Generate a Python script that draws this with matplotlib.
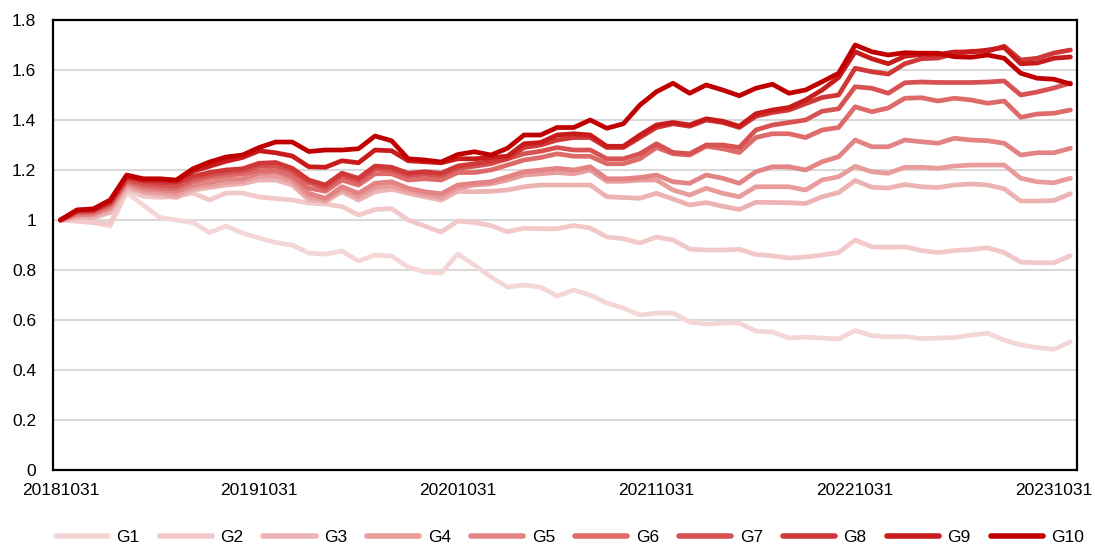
import matplotlib
matplotlib.use('Agg')
import matplotlib.pyplot as plt
import numpy as np

plt.rcParams['font.family'] = ['Liberation Sans', 'DejaVu Sans']

# month-end NAV of 10 groups, 2018-10 .. 2023-11 (62 points)
g1 = [1.0, 0.995, 0.99, 0.976, 1.11, 1.06, 1.01, 1.0, 0.99, 0.95, 0.976, 0.948, 0.928,
      0.91, 0.90, 0.868, 0.864, 0.876, 0.836, 0.86, 0.856, 0.812, 0.792, 0.788, 0.864,
      0.82, 0.772, 0.732, 0.74, 0.732, 0.696, 0.72, 0.70, 0.668, 0.648, 0.62, 0.628,
      0.628, 0.592, 0.584, 0.588, 0.588, 0.556, 0.552, 0.528, 0.532, 0.528, 0.524, 0.558,
      0.538, 0.533, 0.534, 0.526, 0.528, 0.53, 0.54, 0.547, 0.52, 0.50, 0.49, 0.483, 0.513]
g2 = [1.0, 0.997, 0.99, 0.985, 1.12, 1.095, 1.09, 1.095, 1.108, 1.08, 1.108, 1.108, 1.092,
      1.086, 1.08, 1.068, 1.064, 1.054, 1.02, 1.042, 1.046, 1.0, 0.976, 0.952, 0.996,
      0.99, 0.978, 0.953, 0.967, 0.965, 0.965, 0.978, 0.968, 0.932, 0.925, 0.908, 0.932,
      0.92, 0.884, 0.88, 0.88, 0.883, 0.862, 0.857, 0.848, 0.852, 0.86, 0.87, 0.92,
      0.893, 0.891, 0.893, 0.878, 0.87, 0.878, 0.882, 0.889, 0.87, 0.832, 0.829, 0.829, 0.857]
g3 = [1.0, 1.01, 1.01, 1.03, 1.13, 1.11, 1.10, 1.09, 1.12, 1.13, 1.14, 1.145, 1.16,
      1.16, 1.14, 1.08, 1.073, 1.113, 1.08, 1.113, 1.123, 1.107, 1.093, 1.08, 1.115,
      1.113, 1.115, 1.12, 1.133, 1.14, 1.14, 1.14, 1.14, 1.093, 1.09, 1.087, 1.107,
      1.084, 1.06, 1.07, 1.055, 1.042, 1.071, 1.07, 1.069, 1.066, 1.093, 1.11, 1.158,
      1.131, 1.128, 1.142, 1.133, 1.13, 1.14, 1.144, 1.14, 1.125, 1.076, 1.076, 1.078, 1.105]
g4 = [1.0, 1.02, 1.02, 1.045, 1.14, 1.115, 1.11, 1.10, 1.13, 1.14, 1.15, 1.155, 1.175,
      1.177, 1.153, 1.093, 1.08, 1.123, 1.093, 1.13, 1.138, 1.117, 1.103, 1.09, 1.127,
      1.14, 1.145, 1.16, 1.18, 1.185, 1.19, 1.185, 1.20, 1.155, 1.155, 1.16, 1.16,
      1.12, 1.10, 1.127, 1.107, 1.093, 1.133, 1.133, 1.133, 1.12, 1.16, 1.173, 1.215,
      1.193, 1.187, 1.211, 1.211, 1.207, 1.216, 1.22, 1.22, 1.22, 1.167, 1.153, 1.149, 1.167]
g5 = [1.0, 1.02, 1.025, 1.05, 1.15, 1.125, 1.12, 1.115, 1.14, 1.15, 1.165, 1.165, 1.187,
      1.193, 1.167, 1.107, 1.087, 1.133, 1.107, 1.147, 1.153, 1.127, 1.113, 1.105, 1.14,
      1.147, 1.153, 1.173, 1.193, 1.20, 1.207, 1.20, 1.213, 1.165, 1.165, 1.17, 1.18,
      1.153, 1.147, 1.18, 1.167, 1.147, 1.193, 1.213, 1.213, 1.20, 1.233, 1.253, 1.32,
      1.293, 1.293, 1.32, 1.313, 1.307, 1.327, 1.32, 1.317, 1.307, 1.26, 1.269, 1.269, 1.287]
g6 = [1.0, 1.03, 1.03, 1.06, 1.155, 1.135, 1.13, 1.125, 1.155, 1.17, 1.18, 1.185, 1.197,
      1.20, 1.177, 1.128, 1.115, 1.16, 1.14, 1.185, 1.185, 1.16, 1.165, 1.16, 1.19,
      1.19, 1.20, 1.22, 1.24, 1.25, 1.265, 1.255, 1.255, 1.225, 1.225, 1.245, 1.29,
      1.265, 1.26, 1.295, 1.285, 1.27, 1.33, 1.345, 1.345, 1.33, 1.36, 1.37, 1.453,
      1.433, 1.448, 1.487, 1.489, 1.476, 1.487, 1.48, 1.467, 1.476, 1.411, 1.424, 1.427, 1.44]
g7 = [1.0, 1.03, 1.035, 1.065, 1.16, 1.145, 1.14, 1.135, 1.165, 1.18, 1.19, 1.195, 1.215,
      1.218, 1.195, 1.15, 1.13, 1.177, 1.157, 1.205, 1.20, 1.177, 1.183, 1.177, 1.207,
      1.215, 1.225, 1.245, 1.265, 1.275, 1.29, 1.28, 1.28, 1.245, 1.245, 1.265, 1.305,
      1.27, 1.265, 1.30, 1.30, 1.29, 1.36, 1.38, 1.39, 1.40, 1.435, 1.445, 1.533,
      1.527, 1.507, 1.549, 1.552, 1.55, 1.55, 1.55, 1.552, 1.556, 1.50, 1.512, 1.528, 1.548]
g8 = [1.0, 1.035, 1.04, 1.07, 1.17, 1.155, 1.15, 1.15, 1.175, 1.19, 1.20, 1.205, 1.227,
      1.23, 1.207, 1.16, 1.14, 1.187, 1.167, 1.216, 1.211, 1.187, 1.193, 1.187, 1.216,
      1.225, 1.235, 1.245, 1.29, 1.30, 1.32, 1.33, 1.33, 1.29, 1.29, 1.33, 1.37,
      1.385, 1.375, 1.40, 1.39, 1.37, 1.415, 1.43, 1.44, 1.465, 1.49, 1.50, 1.607,
      1.593, 1.584, 1.625, 1.645, 1.648, 1.665, 1.675, 1.675, 1.695, 1.64, 1.647, 1.668, 1.68]
g9 = [1.0, 1.04, 1.04, 1.075, 1.175, 1.16, 1.16, 1.155, 1.195, 1.215, 1.235, 1.25, 1.277,
      1.269, 1.256, 1.213, 1.211, 1.237, 1.229, 1.28, 1.277, 1.237, 1.233, 1.229, 1.245,
      1.245, 1.25, 1.255, 1.305, 1.31, 1.34, 1.345, 1.34, 1.295, 1.295, 1.34, 1.38,
      1.39, 1.38, 1.405, 1.395, 1.375, 1.425, 1.44, 1.45, 1.48, 1.52, 1.57, 1.673,
      1.645, 1.625, 1.655, 1.662, 1.662, 1.672, 1.672, 1.68, 1.69, 1.625, 1.628, 1.647, 1.652]
g10 = [1.0, 1.04, 1.045, 1.08, 1.18, 1.165, 1.165, 1.16, 1.205, 1.232, 1.252, 1.26, 1.29,
       1.312, 1.312, 1.274, 1.28, 1.28, 1.285, 1.336, 1.317, 1.245, 1.24, 1.232, 1.262,
       1.273, 1.26, 1.287, 1.34, 1.34, 1.37, 1.37, 1.40, 1.367, 1.385, 1.46, 1.513,
       1.547, 1.507, 1.54, 1.52, 1.497, 1.527, 1.543, 1.507, 1.52, 1.553, 1.587, 1.70,
       1.673, 1.66, 1.669, 1.667, 1.667, 1.653, 1.651, 1.66, 1.647, 1.587, 1.567, 1.563, 1.544]

series = [g1, g2, g3, g4, g5, g6, g7, g8, g9, g10]
names = ['G1', 'G2', 'G3', 'G4', 'G5', 'G6', 'G7', 'G8', 'G9', 'G10']
colors = ['#F5D6D6', '#F2C8C8', '#EDB2B2', '#E89C9C', '#E38383', '#DE6A6A',
          '#D75252', '#D03838', '#C81C1C', '#C00000']

tick_pos = [0, 12, 24, 36, 48, 60]
tick_labels = ['20181031', '20191031', '20201031', '20211031', '20221031', '20231031']
y_ticks = [0, 0.2, 0.4, 0.6, 0.8, 1.0, 1.2, 1.4, 1.6, 1.8]
y_labels = ['0', '0.2', '0.4', '0.6', '0.8', '1', '1.2', '1.4', '1.6', '1.8']

fig = plt.figure(figsize=(10.95, 5.55), dpi=100)
ax = fig.add_axes([0.0484, 0.153, 0.9352, 0.811])

x = np.arange(len(g1))
for vals, name, c in zip(series, names, colors):
    ax.plot(x, vals, color=c, lw=3.4, label=name,
            solid_joinstyle='round', solid_capstyle='round')

ax.set_xlim(-0.45, len(g1) - 1 + 0.4)
ax.set_ylim(0, 1.8)
ax.set_yticks(y_ticks)
ax.set_yticklabels(y_labels)
ax.set_xticks(tick_pos)
ax.set_xticklabels(tick_labels)
ax.tick_params(axis='both', length=0, labelsize=12.5, colors='black')
ax.tick_params(axis='y', pad=12)
ax.tick_params(axis='x', pad=9)

ax.grid(axis='y', color='#D9D9D9', lw=1.5, zorder=0)
ax.set_axisbelow(True)
for sp in ax.spines.values():
    sp.set_color('black')
    sp.set_linewidth(1.6)

leg = fig.legend(loc='center', bbox_to_anchor=(0.5205, 0.032), ncol=10, frameon=False,
                 fontsize=12.5, handlelength=3.0, handletextpad=0.5, columnspacing=1.15)
for h in leg.get_lines():
    h.set_linewidth(4)
    h.set_solid_capstyle('round')

fig.savefig('out.png', dpi=100, facecolor='white')
